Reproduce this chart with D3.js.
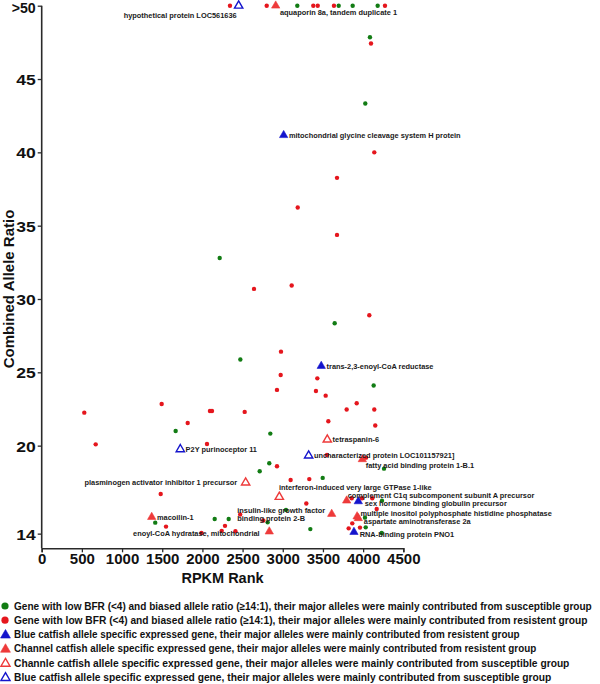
<!DOCTYPE html>
<html><head><meta charset="utf-8">
<script src="https://cdn.jsdelivr.net/npm/d3@7/dist/d3.min.js"></script>
<style>body{margin:0;background:#fff}svg{display:block}</style>
</head><body>
<svg id="c" width="600" height="684"></svg>
<script>
// ---------- data ----------
const yTicks = [14, 20, 25, 30, 35, 40, 45, 50];
const yTickLabels = ["14", "20", "25", "30", "35", "40", "45", ">50"];
const xTicks = [0, 500, 1000, 1500, 2000, 2500, 3000, 3500, 4000, 4500];

// green: low BFR, major alleles from susceptible group
const suscX = [3181, 3696, 3870, 4181, 4085, 4027, 2215, 3646, 2472, 4131, 1667, 2845, 2832, 2713, 4260, 3497, 3040, 4235, 4023, 2812, 1413, 2153, 2327, 4032, 3343, 4231];
const suscY = [50, 50, 50, 50, 47.85, 43.33, 32.8, 28.35, 25.87, 24.1, 21.0, 20.82, 18.8, 18.25, 18.43, 17.8, 15.62, 16.25, 15.09, 14.77, 14.75, 15.0, 15.0, 14.43, 14.31, 14.04];

// red: low BFR, major alleles from resistent group
const resX = [2343, 2800, 3380, 3435, 3637, 4272, 4098, 4139, 3675, 3186, 3675, 2642, 3111, 4077, 2978, 2974, 2928, 530, 1493, 2094, 2119, 2526, 1817, 672, 2057, 2928, 3098, 3430, 3413, 3534, 3920, 3795, 4139, 3567, 4151, 3550, 4036, 3330, 3858, 3986, 4114, 3293, 4169, 2758, 3865, 3820, 3961, 1481, 1547, 2470, 2281, 2240, 1988, 2411];
const resY = [50, 50, 50, 50, 50, 50, 47.42, 40.0, 38.26, 36.24, 34.37, 30.69, 30.92, 28.89, 26.41, 24.82, 23.8, 22.25, 22.84, 22.36, 22.36, 22.3, 21.54, 20.09, 20.11, 18.59, 17.66, 24.59, 23.73, 23.41, 22.89, 22.46, 22.46, 21.66, 21.37, 19.36, 19.18, 17.72, 16.41, 16.41, 16.41, 16.05, 15.68, 14.9, 14.7, 14.36, 14.41, 16.7, 14.48, 15.3, 14.53, 14.19, 14.04, 14.16];

// allele specific expressed genes
const geneNames = [
  "hypothetical protein LOC561636",
  "aquaporin 8a, tandem duplicate 1",
  "mitochondrial glycine cleavage system H protein",
  "trans-2,3-enoyl-CoA reductase",
  "tetraspanin-6",
  "P2Y purinoceptor 11",
  "uncharacterized protein LOC101157921]",
  "fatty acid binding protein 1-B.1",
  "plasminogen activator inhibitor 1 precursor",
  "interferon-induced very large GTPase 1-like",
  "complement C1q subcomponent subunit A precursor",
  "sex hormone binding globulin precursor",
  "insulin-like growth factor|binding protein 2-B",
  "multiple inositol polyphosphate histidine phosphatase",
  "aspartate aminotransferase 2a",
  "RNA-binding protein PNO1",
  "macoilin-1",
  "enoyl-CoA hydratase, mitochondrial"
];
const geneX = [2451, 2912, 3011, 3479, 3554, 1725, 3322, 3990, 2538, 2957, 3795, 3940, 3609, 3925, 3940, 3886, 1369, 2832];
const geneY = [50, 50, 41.17, 25.43, 20.41, 19.75, 19.32, 19.07, 17.48, 16.5, 16.25, 16.2, 15.34, 15.17, 15.05, 14.11, 15.13, 14.14];
const geneType = ["blueOpen", "redFilled", "blueFilled", "blueFilled", "redOpen", "blueOpen", "blueOpen", "redFilled", "redOpen", "redOpen", "redFilled", "blueFilled", "redFilled", "redFilled", "redFilled", "blueFilled", "redFilled", "redFilled"];

const legendTypes = ["green", "red", "blueFilled", "redFilled", "redOpen", "blueOpen"];
const legendLabels = [
  ["Gene with low BFR (<4) and biased allele ratio (≥14:1), their major alleles were mainly contributed from susceptible group"],
  ["Gene with low BFR (<4) and biased allele ratio (≥14:1), their major alleles were mainly contributed from resistent group"],
  ["Blue catfish allele specific expressed gene", ", their major alleles were mainly contributed from resistent group"],
  ["Channel catfish allele specific expressed gene", ", their major alleles were mainly contributed from resistent group"],
  ["Channle catfish allele specific expressed gene, their major alleles were mainly contributed from susceptible group"],
  ["Blue catfish allele specific expressed gene, their major alleles were mainly contributed from susceptible group"]
];

// ---------- styles / layout ----------
const FONT = "Liberation Sans, Arial, sans-serif";
const C = {green: "#127c14", red: "#e5161d", redTri: "#ee3a3a", blue: "#1414cc", axis: "#2a2a2a"};
const svg = d3.select("#c");
const x = d3.scaleLinear().domain([0, 4500]).range([41.7, 403.3]);
const y = d3.scaleLinear().domain([13, 50]).range([548.3, 5.7]);

// axes
const yAxis = d3.axisLeft(y).tickValues(yTicks).tickSize(4).tickPadding(2)
  .tickFormat((d, i) => yTickLabels[i]);
const gy = svg.append("g").attr("transform", `translate(${x(0)},0)`).call(yAxis);
gy.select(".domain").attr("d", `M0,${y(50)}V${y(13)}`);
const xAxis = d3.axisBottom(x).tickValues(xTicks).tickSize(4).tickPadding(1).tickFormat(d3.format("d"));
const gx = svg.append("g").attr("transform", `translate(0,${y(13)})`).call(xAxis);
[gx, gy].forEach(g => {
  g.select(".domain").attr("stroke", C.axis).attr("stroke-width", 1.6);
  g.selectAll(".tick line").attr("stroke", C.axis).attr("stroke-width", 1.3);
  g.selectAll("text").attr("fill", "#111").attr("font-family", FONT).attr("font-weight", "bold");
});
gy.selectAll("text").attr("font-size", 15).attr("dy", "0.36em")
  .attr("textLength", (d, i) => yTickLabels[i].length > 2 ? 24 : 19.5)
  .attr("lengthAdjust", "spacingAndGlyphs");
gy.selectAll(".tick").filter(d => d === 50).select("text").attr("dy", "0.45em");
gx.selectAll("text").attr("font-size", 15);

// axis titles
svg.append("text").attr("x", x(2250)).attr("y", 583).attr("text-anchor", "middle")
  .attr("font-family", FONT).attr("font-weight", "bold").attr("font-size", 14.5)
  .attr("fill", "#111").text("RPKM Rank");
svg.append("text").attr("transform", "translate(14,289) rotate(-90)").attr("text-anchor", "middle")
  .attr("font-family", FONT).attr("font-weight", "bold").attr("font-size", 15)
  .attr("fill", "#111").text("Combined Allele Ratio");

// points
const plot = svg.append("g");
plot.selectAll("circle.s").data(suscX.map((v, i) => [v, suscY[i]])).join("circle")
  .attr("cx", d => x(d[0])).attr("cy", d => y(d[1])).attr("r", 2.2).attr("fill", C.green);
plot.selectAll("circle.r").data(resX.map((v, i) => [v, resY[i]])).join("circle")
  .attr("cx", d => x(d[0])).attr("cy", d => y(d[1])).attr("r", 2.2).attr("fill", C.red);

const tri = d3.symbol().type(d3.symbolTriangle);
function triStyle(sel, type, size) {
  const isBlue = type.startsWith("blue");
  const col = isBlue ? C.blue : C.redTri;
  sel.attr("d", tri.size(size)())
    .attr("fill", type.endsWith("Open") ? "#fff" : col)
    .attr("stroke", col)
    .attr("stroke-width", type.endsWith("Open") ? 1.4 : 0.6);
}
const genes = geneNames.map((n, i) => ({n, gx: geneX[i], gy: geneY[i], t: geneType[i]}));
genes.forEach(g => {
  plot.append("path").attr("transform", `translate(${x(g.gx)},${y(g.gy)})`).call(triStyle, g.t, 30);
});

// label placement (anchor, dx, dy to label centre)
const place = {
  "hypothetical protein LOC561636": ["end", -2, 10],
  "aquaporin 8a, tandem duplicate 1": ["start", 4.3, 6.6],
  "plasminogen activator inhibitor 1 precursor": ["end", -8.4, 0],
  "interferon-induced very large GTPase 1-like": ["start", -0.4, -9.4],
  "complement C1q subcomponent subunit A precursor": ["start", 1, -5.6],
  "sex hormone binding globulin precursor": ["start", 6.4, 1.9],
  "insulin-like growth factor|binding protein 2-B": ["start", -94.4, -3.2],
  "multiple inositol polyphosphate histidine phosphatase": ["start", 3.3, -2.7],
  "aspartate aminotransferase 2a": ["start", 5.5, 3],
  "RNA-binding protein PNO1": ["start", 5.7, 2.6],
  "fatty acid binding protein 1-B.1": ["start", 3.4, 6.3],
  "enoyl-CoA hydratase, mitochondrial": ["end", -9.6, 2]
};
const LF = 7.4;
genes.forEach(g => {
  const p = place[g.n] || ["start", 5.3, 0];
  const lines = g.n.split("|");
  const x0 = x(g.gx) + p[1], y0 = y(g.gy) + p[2] + LF * 0.36;
  lines.forEach((l, k) => svg.append("text")
    .attr("font-family", FONT).attr("font-weight", "bold")
    .attr("font-size", LF).attr("fill", "#1a1a1a").attr("text-anchor", p[0])
    .attr("x", x0).attr("y", y0 + k * 7.8).text(l));
});

// legend (text condensed horizontally to the reference widths)
const LG = svg.append("g");
const lgW = [578, 574, 506, 522, 556, 538];
legendLabels.forEach((parts, i) => {
  const cy = 606 + i * 14.2;
  const ty = legendTypes[i];
  if (ty === "green" || ty === "red") {
    LG.append("circle").attr("cx", 5).attr("cy", cy).attr("r", 3.6).attr("fill", ty === "green" ? C.green : C.red);
  } else {
    LG.append("path").attr("transform", `translate(5.5,${cy + 0.8})`).call(triStyle, ty, ty.endsWith("Open") ? 36 : 42);
  }
  const t = LG.append("text").attr("x", 0).attr("y", 0)
    .attr("font-family", FONT).attr("font-weight", "bold")
    .attr("font-size", 10.5).attr("fill", "#111");
  parts.forEach(s => t.append("tspan").text(s));
  const w = t.node().getComputedTextLength();
  t.attr("transform", `translate(14,${cy + 3.8}) scale(${lgW[i] / w},1)`);
});
</script>
</body></html>
